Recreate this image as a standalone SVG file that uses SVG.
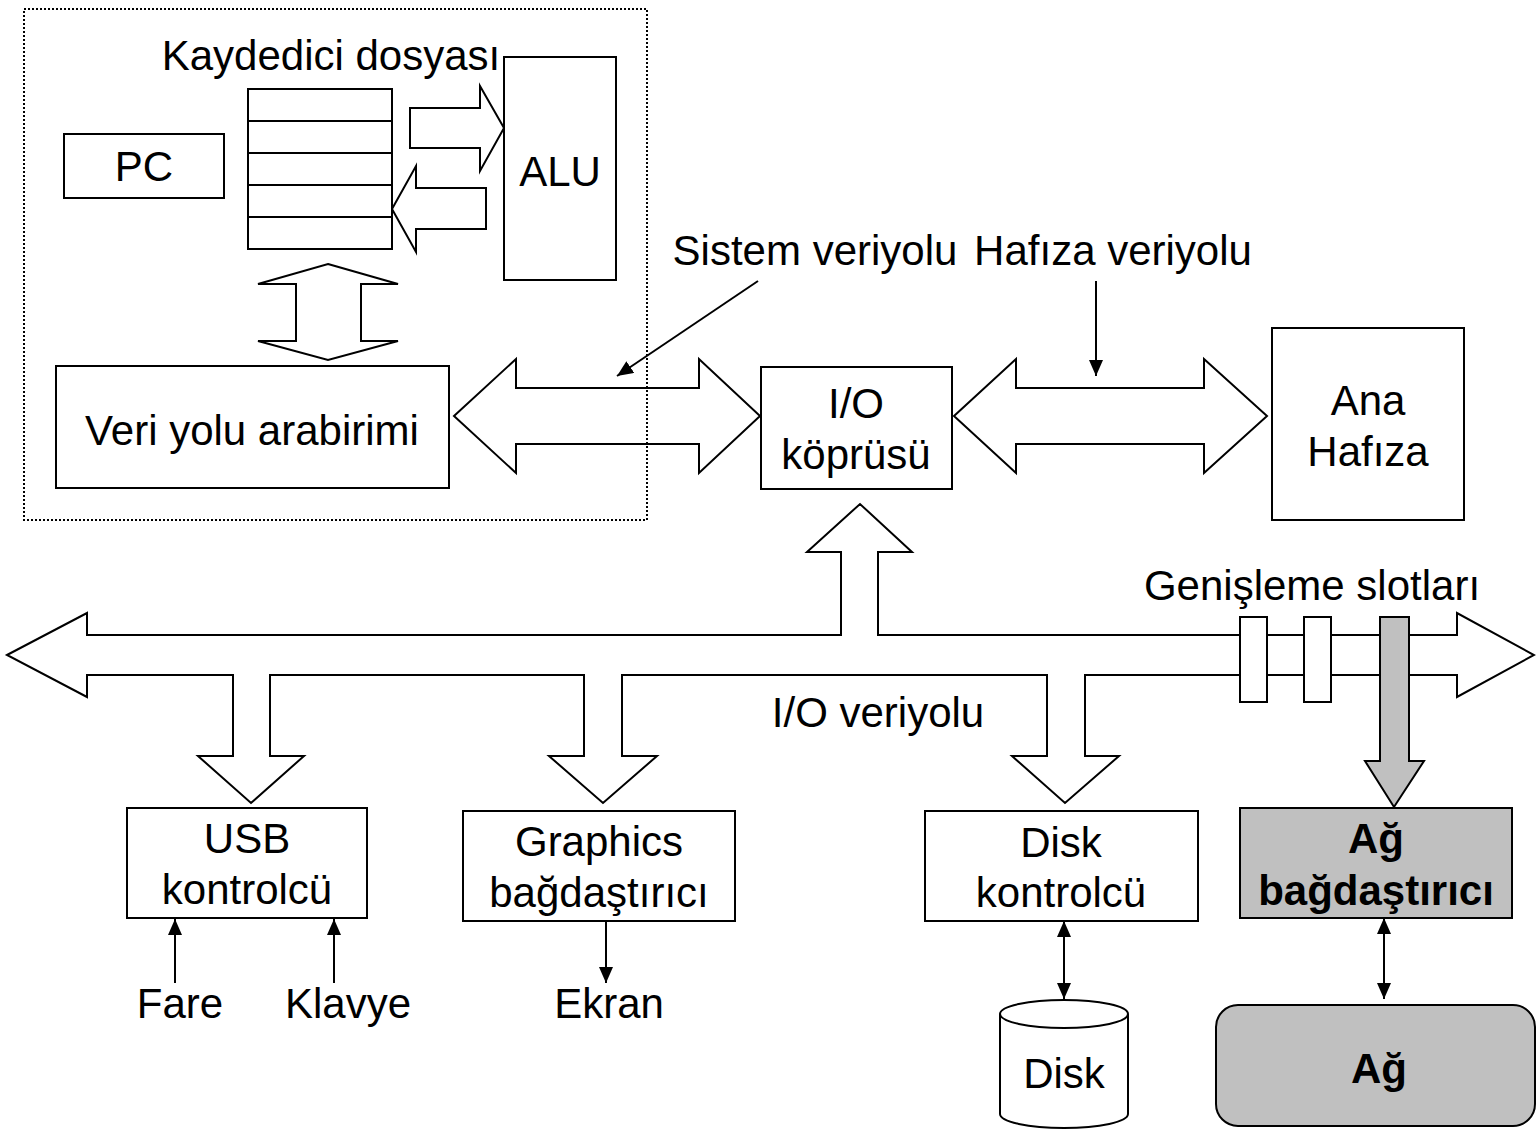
<svg xmlns="http://www.w3.org/2000/svg" width="1536" height="1131" viewBox="0 0 1536 1131">
<defs>
<style>
text{font-family:"Liberation Sans",Arial,sans-serif;font-size:42px;fill:#000;text-anchor:middle}
.b{font-weight:bold}
.box{fill:#fff;stroke:#000;stroke-width:2}
.gray{fill:#c0c0c0;stroke:#000;stroke-width:2}
.bus{fill:#fff;stroke:#000;stroke-width:2;stroke-linejoin:miter}
.thin{fill:none;stroke:#000;stroke-width:2}
</style>
<marker id="ah" viewBox="0 0 16 14" refX="16" refY="7" markerWidth="16" markerHeight="14" markerUnits="userSpaceOnUse" orient="auto-start-reverse">
<path d="M0,0 L16,7 L0,14 Z" fill="#000"/>
</marker>
</defs>
<rect width="1536" height="1131" fill="#fff"/>

<g id="connectors">
<!-- system bus -->
<polygon class="bus" points="454,416 516,359 516,388 699,388 699,359 760,416 699,473 699,444 516,444 516,473"/>
<!-- memory bus -->
<polygon class="bus" points="954,416 1016,359 1016,388 1204,388 1204,359 1267,416 1204,473 1204,444 1016,444 1016,473"/>
<!-- register <-> ALU -->
<polygon class="bus" points="410,108 480,108 480,86 504,128 480,171 480,148 410,148"/>
<polygon class="bus" points="392,209 416,166 416,188 486,188 486,229 416,229 416,252"/>
<!-- register file <-> bus interface -->
<polygon class="bus" points="328,264 398,284 361,284 361,341 398,341 328,360 258,341 296,341 296,284 258,284"/>
<!-- I/O bus -->
<polygon class="bus" points="7,655 87,613 87,635 841,635 841,552 807,552 860,504 912,552 878,552 878,635 1457,635 1457,613 1534,655 1457,697 1457,675 1085,675 1085,756 1119,756 1065,803 1012,756 1047,756 1047,675 622,675 622,756 657,756 603,803 549,756 584,756 584,675 270,675 270,756 304,756 251,803 198,756 233,756 233,675 87,675 87,697"/>
<!-- expansion slots -->
<rect class="box" x="1240" y="617" width="27" height="85"/>
<rect class="box" x="1304" y="617" width="27" height="85"/>
<polygon class="gray" points="1380,617 1409,617 1409,761 1424,761 1394,807 1365,761 1380,761"/>
<!-- pointer arrows -->
<line class="thin" x1="758" y1="281" x2="617" y2="376" marker-end="url(#ah)"/>
<line class="thin" x1="1096" y1="281" x2="1096" y2="376" marker-end="url(#ah)"/>
<line class="thin" x1="175" y1="983" x2="175" y2="919" marker-end="url(#ah)"/>
<line class="thin" x1="334" y1="983" x2="334" y2="919" marker-end="url(#ah)"/>
<line class="thin" x1="606" y1="921" x2="606" y2="983" marker-end="url(#ah)"/>
<line class="thin" x1="1064" y1="921" x2="1064" y2="999" marker-start="url(#ah)" marker-end="url(#ah)"/>
<line class="thin" x1="1384" y1="918" x2="1384" y2="999" marker-start="url(#ah)" marker-end="url(#ah)"/>
</g>

<g id="cpu">
<rect x="24" y="9" width="623" height="511" fill="none" stroke="#000" stroke-width="2" stroke-dasharray="2,2"/>
</g>
<g id="regfile">
<text x="331" y="70">Kaydedici dosyası</text>
<rect class="box" x="248" y="89" width="144" height="160"/>
<line class="thin" x1="248" y1="121" x2="392" y2="121"/>
<line class="thin" x1="248" y1="153" x2="392" y2="153"/>
<line class="thin" x1="248" y1="185" x2="392" y2="185"/>
<line class="thin" x1="248" y1="217" x2="392" y2="217"/>
</g>
<g id="pc">
<rect class="box" x="64" y="134" width="160" height="64"/>
<text x="144" y="181">PC</text>
</g>
<g id="alu">
<rect class="box" x="504" y="57" width="112" height="223"/>
<text x="560" y="186">ALU</text>
</g>
<g id="businterface">
<rect class="box" x="56" y="366" width="393" height="122"/>
<text x="252" y="445">Veri yolu arabirimi</text>
</g>
<g id="labels">
<text x="815" y="265">Sistem veriyolu</text>
<text x="1113" y="265">Hafıza veriyolu</text>
<text x="1312" y="600">Genişleme slotları</text>
<text x="878" y="727">I/O veriyolu</text>
</g>
<g id="iobridge">
<rect class="box" x="761" y="367" width="191" height="122"/>
<text x="856" y="418">I/O</text>
<text x="856" y="469">köprüsü</text>
</g>
<g id="memory">
<rect class="box" x="1272" y="328" width="192" height="192"/>
<text x="1368" y="415">Ana</text>
<text x="1368" y="466">Hafıza</text>
</g>
<g id="usb">
<rect class="box" x="127" y="808" width="240" height="110"/>
<text x="247" y="853">USB</text>
<text x="247" y="904">kontrolcü</text>
</g>
<g id="graphics">
<rect class="box" x="463" y="811" width="272" height="110"/>
<text x="599" y="856">Graphics</text>
<text x="599" y="907">bağdaştırıcı</text>
</g>
<g id="diskctrl">
<rect class="box" x="925" y="811" width="273" height="110"/>
<text x="1061" y="857">Disk</text>
<text x="1061" y="907">kontrolcü</text>
</g>
<g id="netadapter">
<rect class="gray" x="1240" y="808" width="272" height="110"/>
<text class="b" x="1376" y="853">Ağ</text>
<text class="b" x="1376" y="905">bağdaştırıcı</text>
</g>
<g id="mouse"><text x="180" y="1018">Fare</text></g>
<g id="keyboard"><text x="348" y="1018">Klavye</text></g>
<g id="monitor"><text x="609" y="1018">Ekran</text></g>
<g id="disk">
<path class="box" d="M1000,1014 A64,14 0 0 1 1128,1014 L1128,1114 A64,14 0 0 1 1000,1114 Z"/>
<path class="thin" d="M1000,1014 A64,14 0 0 0 1128,1014"/>
<text x="1064" y="1088">Disk</text>
</g>
<g id="network">
<rect class="gray" x="1216" y="1005" width="319" height="121" rx="22" ry="22"/>
<text class="b" x="1379" y="1083">Ağ</text>
</g>
</svg>
